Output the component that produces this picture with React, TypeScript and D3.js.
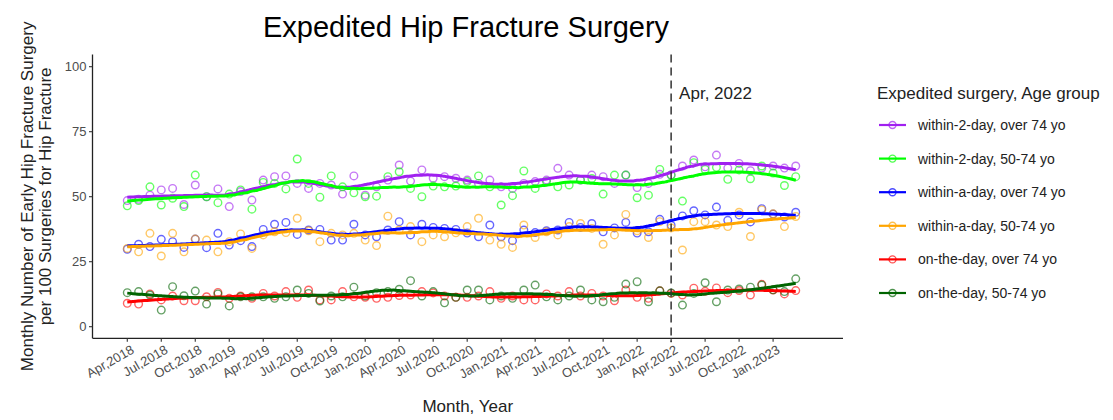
import * as d3 from 'd3';

const W = 1113;
const H = 420;

// Apr 2018 .. Mar 2023, one value per month
const within2Over74 = [
  48.5, 49, 50.6, 52.6, 53.2, 47, 54.5, 50, 53, 46.2, 52, 48.7,
  56.4, 57.7, 58, 55.1, 53.2, 55.1, 54.5, 51, 58, 50.6, 53.8, 56.4,
  62.2, 56, 60.3, 57.1, 57.7, 57.1, 56.4, 55.1, 56.4, 53.8, 53.2, 55.1,
  55.8, 56.4, 60.9, 58.3, 56.4, 58.3, 57.7, 55.1, 58.3, 53.5, 55.1, 58.6,
  58.3, 61.8, 64.1, 61.5, 66, 61, 62.8, 60, 61, 61.8, 61, 61.8,
];
const within2Age5074 = [
  46.5, 48.5, 53.8, 46.8, 49.4, 46.2, 58.3, 50, 47.7, 51, 52.6, 45.2,
  55.5, 55.1, 53, 64.5, 55.1, 49.8, 58, 53.8, 51.5, 50, 50.2, 57.7,
  59.6, 53.2, 50, 54.1, 53.8, 54.1, 55.8, 58, 53.8, 46.8, 50.4, 59.9,
  53.2, 55.8, 53.8, 54.5, 56.4, 57, 51, 58.3, 58.3, 49.6, 50.6, 60.5,
  58.3, 48.3, 63.1, 60.5, 61.3, 56.7, 60.3, 56.9, 61.8, 59.1, 54.3, 57.7,
];
const withinDayOver74 = [
  29.8, 31.7, 30.8, 33.6, 32.7, 30.5, 33.7, 30.4, 35.9, 31.4, 33.1, 30.8,
  37.4, 39.4, 40.1, 35.5, 37.2, 37.4, 33.3, 33.3, 39.4, 35.3, 34.6, 37.2,
  40.4, 35.3, 39.4, 38.2, 37.8, 37.4, 36, 34.6, 39.1, 34.6, 33.1, 37.2,
  36.2, 36.9, 37.2, 40.1, 38.2, 39.7, 36.5, 38, 40.1, 36, 36.5, 41.3,
  39, 42.6, 44.6, 43, 46, 40.9, 43, 40.3, 45.4, 43.3, 42.2, 44,
];
const withinDayAge5074 = [
  30.1, 28.8, 35.9, 27.2, 35.9, 28.8, 33.7, 33.3, 28.8, 32.7, 35.7, 30.1,
  35.3, 36.5, 36.2, 41.7, 36.9, 32.7, 35.9, 35.3, 35.9, 33.3, 31.2, 42.5,
  37.2, 38.5, 32.7, 35.3, 34.6, 36.1, 38.5, 41.7, 33.3, 31.7, 30.5, 39.1,
  34.3, 36.5, 35.3, 38.5, 39.7, 37.8, 31.7, 35.3, 43.2, 36.9, 34.3, 40.4,
  38, 29.5, 40.4, 40.4, 39.1, 38.5, 44, 34.7, 44.9, 43.4, 38.5, 42.4,
];
const onDayOver74 = [
  9, 8.7, 12.6, 10.3, 11.8, 10, 10, 11.5, 13.2, 10.9, 11.8, 10.9,
  12.8, 11.8, 13.5, 11.3, 14.1, 10.3, 10.3, 13.5, 11.5, 11.3, 10.9, 11.3,
  12, 12.2, 13.5, 13, 11.8, 11.3, 11.3, 11.8, 13.5, 10.9, 11.8, 10.3,
  10.3, 12.6, 11.8, 13.5, 11.8, 12.8, 11.8, 10, 14.1, 11.3, 10.9, 13.8,
  12.8, 12.2, 14.8, 13.6, 14.9, 13.1, 13.9, 12.2, 16.3, 14.1, 12.6, 13.9,
];
const onDayAge5074 = [
  13.1, 13.5, 12.2, 6.4, 15.4, 11.9, 13.7, 8.7, 12.6, 8, 11.5, 11.5,
  11.5, 10.9, 11.5, 14.1, 12.8, 9.9, 11.8, 11.5, 15.2, 11.8, 13.1, 13.5,
  14.4, 17.7, 11.8, 13.5, 9.2, 11.3, 14.1, 14.1, 10.3, 11.8, 10.9, 14.1,
  16, 11.5, 10.3, 11.8, 14.1, 10.3, 9.6, 11.3, 16.4, 17.3, 9.6, 13.8,
  13, 8.3, 12.8, 16.9, 9.6, 14.1, 14.5, 15.2, 16, 14.2, 13.5, 18.4,
];

const seriesNames = [
  'within-2-day, over 74 yo',
  'within-2-day, 50-74 yo',
  'within-a-day, over 74 yo',
  'within-a-day, 50-74 yo',
  'on-the-day, over 74 yo',
  'on-the-day, 50-74 yo',
];
const seriesColors = ['#A020F0', '#00FF00', '#0000FF', '#FFA500', '#FF0000', '#006400'];
const seriesValues = [
  within2Over74, within2Age5074, withinDayOver74,
  withinDayAge5074, onDayOver74, onDayAge5074,
];

const tickLabels = [
  'Apr,2018', 'Jul,2018', 'Oct,2018', 'Jan,2019', 'Apr,2019', 'Jul,2019', 'Oct,2019',
  'Jan,2020', 'Apr,2020', 'Jul,2020', 'Oct,2020', 'Jan,2021', 'Apr,2021', 'Jul,2021',
  'Oct,2021', 'Jan,2022', 'Apr,2022', 'Jul,2022', 'Oct,2022', 'Jan,2023',
];
const yTicks = [0, 25, 50, 75, 100];
const policyMonth = 48; // Apr 2022
const policyLabel = 'Apr, 2022';

// local polynomial loess with tricube weights
function loess(ys: number[], span: number, degree = 2, step = 0.25) {
  const n = ys.length;
  const m = degree + 1;
  const xs = ys.map((_, i) => i);
  const q = Math.max(3, Math.floor(span * n));
  const out: [number, number][] = [];
  for (let x0 = 0; x0 <= n - 1 + 1e-9; x0 += step) {
    const dists = xs.map((x) => Math.abs(x - x0)).sort((a, b) => a - b);
    const h = dists[q - 1] * 1.0001 + 1e-6;
    const A = Array.from({ length: m }, () => new Array(m).fill(0));
    const b = new Array(m).fill(0);
    xs.forEach((x, i) => {
      const d = Math.abs(x - x0) / h;
      if (d >= 1) return;
      const w = Math.pow(1 - d * d * d, 3);
      const dx = x - x0;
      const v = Array.from({ length: m }, (_, k) => Math.pow(dx, k));
      for (let r = 0; r < m; r++) {
        b[r] += w * v[r] * ys[i];
        for (let c = 0; c < m; c++) A[r][c] += w * v[r] * v[c];
      }
    });
    for (let c = 0; c < m; c++) {
      let p = c;
      for (let r = c + 1; r < m; r++) if (Math.abs(A[r][c]) > Math.abs(A[p][c])) p = r;
      [A[c], A[p]] = [A[p], A[c]];
      [b[c], b[p]] = [b[p], b[c]];
      for (let r = c + 1; r < m; r++) {
        const f = A[r][c] / A[c][c];
        for (let k = c; k < m; k++) A[r][k] -= f * A[c][k];
        b[r] -= f * b[c];
      }
    }
    const beta = new Array(m).fill(0);
    for (let r = m - 1; r >= 0; r--) {
      let s = b[r];
      for (let k = r + 1; k < m; k++) s -= A[r][k] * beta[k];
      beta[r] = s / A[r][r];
    }
    out.push([x0, beta[0]]);
  }
  return out;
}

export default function App() {
  const left = 92.5;
  const right = 843;
  const top = 54.5;
  const bottom = 338.3;

  const x = d3.scaleLinear().domain([-3.07, 63.17]).range([left, right]);
  const y = d3.scaleLinear().domain([0, 100]).range([326.7, 66.7]);

  const line = d3
    .line<[number, number]>()
    .x((d) => x(d[0]))
    .y((d) => y(d[1]))
    .curve(d3.curveMonotoneX);

  const smooths = seriesValues.map((vals) => loess(vals, 0.3, 2));
  const font = "'Liberation Sans', Arial, sans-serif";
  const tickColor = '#4D4D4D';

  return (
    <svg
      width={W}
      height={H}
      viewBox={`0 0 ${W} ${H}`}
      style={{ position: 'absolute', left: 0, top: 0, background: '#fff' }}
      fontFamily={font}
    >
      <text x={466} y={37} textAnchor="middle" fontSize={29} fill="#000">
        Expedited Hip Fracture Surgery
      </text>

      {/* points */}
      {seriesValues.map((vals, s) => (
        <g key={`p${s}`} fill="none" stroke={seriesColors[s]} strokeWidth={1.4} opacity={0.6}>
          {vals.map((v, i) => (
            <circle key={i} cx={x(i)} cy={y(v)} r={3.8} />
          ))}
        </g>
      ))}

      {/* smooth lines */}
      {smooths.map((pts, s) => (
        <path key={`l${s}`} d={line(pts) ?? ''} fill="none" stroke={seriesColors[s]} strokeWidth={3} />
      ))}

      {/* policy marker */}
      <line
        x1={x(policyMonth)}
        x2={x(policyMonth)}
        y1={top}
        y2={bottom + 4}
        stroke="#333"
        strokeWidth={1.5}
        strokeDasharray="8,5"
      />
      <text x={x(policyMonth) + 8} y={99} fontSize={17} fill="#222">
        {policyLabel}
      </text>

      {/* axes */}
      <line x1={left} x2={left} y1={top} y2={bottom} stroke="#222" strokeWidth={1.3} />
      <line x1={left} x2={right} y1={bottom} y2={bottom} stroke="#222" strokeWidth={1.3} />
      {yTicks.map((t) => (
        <g key={`y${t}`}>
          <line x1={left - 3.5} x2={left} y1={y(t)} y2={y(t)} stroke="#333" strokeWidth={1.1} />
          <text x={left - 6} y={y(t)} dy="0.35em" textAnchor="end" fontSize={13} fill={tickColor}>
            {t}
          </text>
        </g>
      ))}
      {tickLabels.map((lab, k) => {
        const tx = x(k * 3);
        return (
          <g key={lab}>
            <line x1={tx} x2={tx} y1={bottom} y2={bottom + 3.5} stroke="#333" strokeWidth={1.1} />
            <text
              transform={`translate(${tx + 3},${bottom + 6}) rotate(-30)`}
              dy="0.71em"
              textAnchor="end"
              fontSize={13}
              fill={tickColor}
            >
              {lab}
            </text>
          </g>
        );
      })}

      <text x={(left + right) / 2} y={412} textAnchor="middle" fontSize={17} fill="#222">
        Month, Year
      </text>
      <g transform={`translate(0,${(top + bottom) / 2}) rotate(-90)`}>
        <text x={0} y={33} textAnchor="middle" fontSize={17} fill="#222">
          Monthly Number of Early Hip Fracture Surgery
        </text>
        <text x={0} y={51} textAnchor="middle" fontSize={17} fill="#222">
          per 100 Surgeries for Hip Fracture
        </text>
      </g>

      {/* legend */}
      <text x={877} y={99} fontSize={17} fill="#222">
        Expedited surgery, Age group
      </text>
      {seriesNames.map((name, s) => {
        const ly = 125 + s * 33.6;
        return (
          <g key={name}>
            <line x1={879} x2={906} y1={ly} y2={ly} stroke={seriesColors[s]} strokeWidth={2.2} />
            <circle cx={892.5} cy={ly} r={3.5} fill="none" stroke={seriesColors[s]} strokeWidth={1.4} opacity={0.7} />
            <text x={918} y={ly} dy="0.35em" fontSize={14} fill="#222">
              {name}
            </text>
          </g>
        );
      })}
    </svg>
  );
}
